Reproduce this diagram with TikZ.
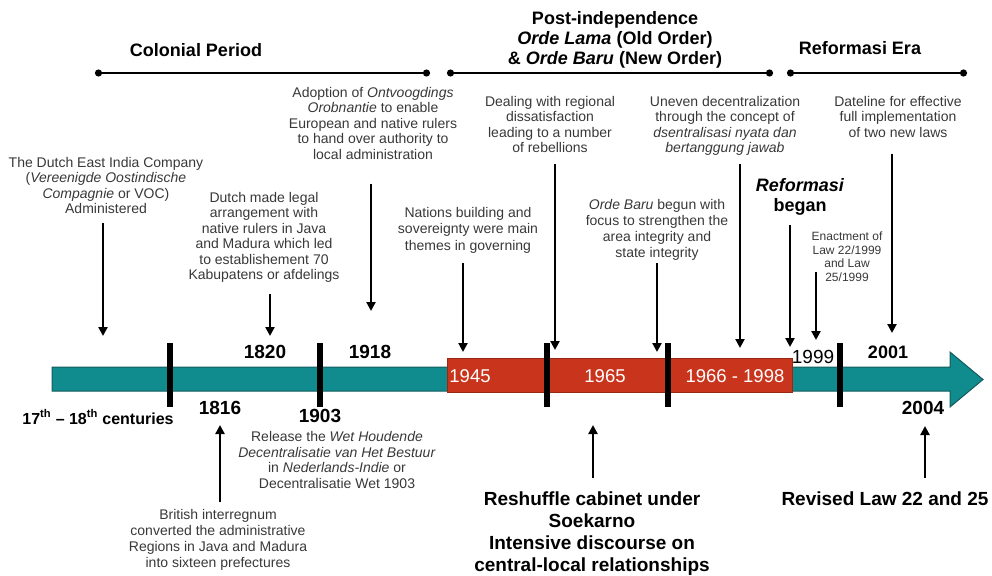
\documentclass[tikz,border=0pt]{standalone}
\usepackage{fontspec}
\setmainfont{Liberation Sans}
\usepackage{xcolor}
\usetikzlibrary{arrows.meta,calc,positioning}

\definecolor{barteal}{RGB}{16,140,143}
\definecolor{tealedge}{RGB}{20,90,92}
\definecolor{barred}{RGB}{200,52,28}
\definecolor{rededge}{RGB}{150,40,20}

\newcommand{\notetxt}{\fontsize{14}{15.5}\selectfont}
\newcommand{\enacttxt}{\fontsize{12}{13.7}\selectfont}
\newcommand{\headtxt}{\fontsize{18}{20}\selectfont\bfseries}
\newcommand{\yeartxt}{\fontsize{19}{21}\selectfont\bfseries}
\newcommand{\bigtxt}{\fontsize{19}{22}\selectfont\bfseries}

\begin{document}
\begin{tikzpicture}[x=1pt, y=-1pt,
  note/.style={align=center, anchor=north, inner sep=0pt, text=black!78, font=\notetxt},
  head/.style={align=center, inner sep=0pt, font=\headtxt},
  year/.style={inner sep=0pt, font=\yeartxt},
  inbar/.style={inner sep=0pt, text=white, font=\fontsize{18.5}{20}\selectfont},
  event/.style={-{Triangle[length=9pt,width=9pt]}, line width=2.6pt},
  era/.style={{Circle[length=7pt]}-{Circle[length=7pt]}, line width=2.4pt},
  yearmark/.style={line width=6pt}]
  \useasboundingbox (0,0) rectangle (992,575);

  % Eras on top
  \node[head] (colonial) at (196,50) {Colonial Period};
  \node[head, anchor=north] (postind) at (615,11.5)
    {Post-independence\\ \textit{Orde Lama} (Old Order)\\ \& \textit{Orde Baru} (New Order)};
  \node[head] (reformera) at (860,48) {Reformasi Era};
  \coordinate (colL) at (95,73);
  \coordinate (colR) at (430,73);
  \coordinate (postL) at (447,73);
  \coordinate (postR) at (773,73);
  \coordinate (refL) at (787,73);
  \coordinate (refR) at (967,73);
  \draw[era] (colL) -- (colR);
  \draw[era] (postL) -- (postR);
  \draw[era] (refL) -- (refR);

  % Timeline bar
  \draw[draw=tealedge, fill=barteal, line width=1pt]
    (52,367) -- (950,367) -- (950,352) -- (983,379.5) -- (950,407) -- (950,391) -- (52,391) -- cycle;
  \draw[draw=rededge, fill=barred, line width=1pt] (447,358) rectangle (792,392);
  \foreach \x in {170,320,547,668,840}
    \draw[yearmark] (\x,343) -- (\x,407);

  % Years
  \node[year, font=\fontsize{16}{18}\selectfont\bfseries] (cent) at (98,417)
    {17\textsuperscript{th} -- 18\textsuperscript{th} centuries};
  \node[year] (yr1816) at (220,408) {1816};
  \node[year] (yr1820) at (265,352) {1820};
  \node[year] (yr1903) at (320,416) {1903};
  \node[year] (yr1918) at (370,352) {1918};
  \node[inbar] (yr1945) at (470,376) {1945};
  \node[inbar] (yr1965) at (605,376) {1965};
  \node[inbar] (yr1966) at (735,376) {1966 - 1998};
  \node[year, font=\fontsize{19}{21}\selectfont] (yr1999) at (813,357) {1999};
  \node[year, font=\fontsize{18}{20}\selectfont\bfseries] (yr2001) at (888,352) {2001};
  \node[year] (yr2004) at (923,408) {2004};

  % Events above the bar
  \node[note] (voc) at (106,157)
    {The Dutch East India Company\\ (\textit{Vereenigde Oostindische}\\ \textit{Compagnie} or VOC)\\ Administered};
  \coordinate (voc-end) at (103,336);
  \draw[event, shorten <=9pt] (voc.south -| voc-end) -- (voc-end);

  \node[note] (dutch) at (264,192)
    {Dutch made legal\\ arrangement with\\ native rulers in Java\\ and Madura which led\\ to establishement 70\\ Kabupatens or afdelings};
  \coordinate (dutch-end) at (270,336);
  \draw[event, shorten <=11pt] (dutch.south -| dutch-end) -- (dutch-end);

  \node[note] (adopt) at (373,87)
    {Adoption of \textit{Ontvoogdings}\\ \textit{Orobnantie} to enable\\ European and native rulers\\ to hand over authority to\\ local administration};
  \coordinate (adopt-end) at (371,311);
  \draw[event, shorten <=24pt] (adopt.south -| adopt-end) -- (adopt-end);

  \node[note, font=\fontsize{14}{16.5}\selectfont] (nations) at (468,207)
    {Nations building and\\ sovereignty were main\\ themes in governing};
  \coordinate (nations-end) at (463,352);
  \draw[event, shorten <=10pt] (nations.south -| nations-end) -- (nations-end);

  \node[note] (dealing) at (550,96)
    {Dealing with regional\\ dissatisfaction\\ leading to a number\\ of rebellions};
  \coordinate (dealing-end) at (555,350);
  \draw[event, shorten <=11pt] (dealing.south -| dealing-end) -- (dealing-end);

  \node[note, font=\fontsize{14}{16}\selectfont] (ordebaru) at (657,199)
    {\textit{Orde Baru} begun with\\ focus to strengthen the\\ area integrity and\\ state integrity};
  \coordinate (ordebaru-end) at (657,352);
  \draw[event, shorten <=3pt] (ordebaru.south -| ordebaru-end) -- (ordebaru-end);

  \node[note] (uneven) at (725,96)
    {Uneven decentralization\\ through the concept of\\ \textit{dsentralisasi nyata dan}\\ \textit{bertanggung jawab}};
  \coordinate (uneven-end) at (740,348);
  \draw[event, shorten <=8pt] (uneven.south -| uneven-end) -- (uneven-end);

  \node[head, anchor=north] (began) at (800,178.5) {\textit{Reformasi}\\ began};
  \coordinate (began-end) at (790,347);
  \draw[event, shorten <=9pt] (began.south -| began-end) -- (began-end);

  \node[note, font=\enacttxt] (enact) at (847,231.5)
    {Enactment of\\ Law 22/1999\\ and Law\\ 25/1999};
  \coordinate (enact-a) at (816,272);
  \coordinate (enact-end) at (816,340);
  \draw[event] (enact-a) -- (enact-end);

  \node[note] (dateline) at (898,96)
    {Dateline for effective\\ full implementation\\ of two new laws};
  \coordinate (dateline-end) at (892,333);
  \draw[event, shorten <=16pt] (dateline.south -| dateline-end) -- (dateline-end);

  % Events below the bar
  \node[note, font=\fontsize{14}{15.7}\selectfont] (release) at (337,431)
    {Release the \textit{Wet Houdende}\\ \textit{Decentralisatie van Het Bestuur}\\ in \textit{Nederlands-Indie} or\\ Decentralisatie Wet 1903};

  \node[note, font=\fontsize{14}{16}\selectfont] (british) at (218,509)
    {British interregnum\\ converted the administrative\\ Regions in Java and Madura\\ into sixteen prefectures};
  \coordinate (british-end) at (220,425);
  \draw[event, shorten <=7pt] (british.north -| british-end) -- (british-end);

  \node[note, text=black, font=\bigtxt] (reshuffle) at (592,492)
    {Reshuffle cabinet under\\ Soekarno\\ Intensive discourse on\\ central-local relationships};
  \coordinate (reshuffle-end) at (593,425);
  \draw[event, shorten <=14pt] (reshuffle.north -| reshuffle-end) -- (reshuffle-end);

  \node[note, text=black, font=\bigtxt] (revised) at (885,492) {Revised Law 22 and 25};
  \coordinate (revised-end) at (925,426);
  \draw[event, shorten <=14pt] (revised.north -| revised-end) -- (revised-end);
\end{tikzpicture}
\end{document}
